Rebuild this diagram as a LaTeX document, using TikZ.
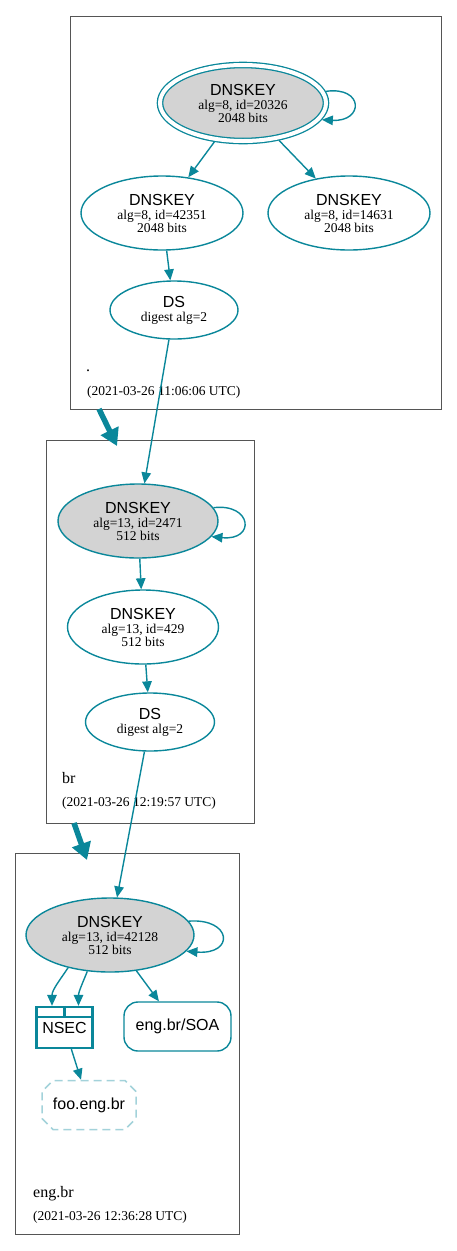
\documentclass[tikz,border=0pt]{standalone}
\usepackage{fontspec}
\setmainfont{Liberation Serif}
\setsansfont{Liberation Sans}
\usetikzlibrary{arrows.meta,shapes.geometric,shapes.misc,calc}
\definecolor{tealc}{HTML}{0A879A}
\definecolor{ltteal}{HTML}{A3D2DA}
\definecolor{zonegray}{HTML}{555555}
\definecolor{keyfill}{HTML}{D3D3D3}
\newcommand{\dnsk}{\textsf{\fontsize{16}{16}\selectfont DNSKEY}\\[1pt]}
\newcommand{\dsname}{\textsf{\fontsize{16}{16}\selectfont DS}\\[1pt]}
\begin{document}
\begin{tikzpicture}[x=1pt,y=-1pt,
  zone/.style={draw=zonegray, line width=0.8pt, rectangle, inner sep=0pt, anchor=north west},
  key/.style={ellipse, draw=tealc, line width=1.4pt, inner sep=0pt, align=center,
    font=\fontsize{13.5}{13}\selectfont},
  ksk/.style={key, fill=keyfill},
  edge/.style={draw=tealc, line width=1.4pt, -{Triangle[length=11pt,width=9.5pt]}},
  zedge/.style={draw=tealc, line width=5.5pt, -{Triangle[length=17pt,width=19pt]}},
  zlabel/.style={inner sep=0pt, anchor=base west, font=\fontsize{16}{16}\selectfont},
  zdate/.style={inner sep=0pt, anchor=base west, font=\fontsize{13.5}{14}\selectfont},
  rec/.style={draw=tealc, line width=1.4pt, rectangle, rounded corners=14pt, inner sep=0pt,
    font=\sffamily\fontsize{16}{16}\selectfont},
]
\useasboundingbox (0,0) rectangle (457,1251);

% zones
\node[zone, minimum width=371, minimum height=393] (zone1) at (70,16) {};
\node[zone, minimum width=208, minimum height=383] (zone2) at (46,440) {};
\node[zone, minimum width=224, minimum height=381] (zone3) at (15,853) {};

% zone labels
\node[zlabel] (l1) at (86,371) {.};
\node[zdate] (d1) at (87,395) {(2021-03-26 11:06:06 UTC)};
\node[zlabel] (l2) at (62,783) {br};
\node[zdate] (d2) at (62,806) {(2021-03-26 12:19:57 UTC)};
\node[zlabel] (l3) at (33,1197) {eng.br};
\node[zdate] (d3) at (33,1220) {(2021-03-26 12:36:28 UTC)};

% zone .
\node[ksk, minimum width=166, minimum height=76, double=white, double distance=4pt,
  line width=1.3pt, outer sep=3.3pt] (k1) at (243,103) {\dnsk alg=8, id=20326\\2048 bits};
\node[key, minimum width=162, minimum height=74] (k2) at (162,213) {\dnsk alg=8, id=42351\\2048 bits};
\node[key, minimum width=162, minimum height=74] (k3) at (349,213) {\dnsk alg=8, id=14631\\2048 bits};
\node[key, minimum width=128, minimum height=58] (ds1) at (174,310) {\dsname digest alg=2};

% zone br
\node[ksk, minimum width=160, minimum height=74] (k4) at (138,521) {\dnsk alg=13, id=2471\\512 bits};
\node[key, minimum width=151, minimum height=74] (k5) at (143,627) {\dnsk alg=13, id=429\\512 bits};
\node[key, minimum width=129, minimum height=58] (ds2) at (150,722) {\dsname digest alg=2};

% zone eng.br
\node[ksk, minimum width=168, minimum height=74] (k6) at (110,935) {\dnsk alg=13, id=42128\\512 bits};
\node[draw=tealc, line width=2.3pt, rectangle, inner sep=0pt, minimum width=56, minimum height=41,
  font=\sffamily\fontsize{16}{16}\selectfont] (nsec) at (64.5,1027.5) {\raisebox{-6pt}{NSEC}};
\draw[draw=tealc, line width=2.3pt] ($(nsec.north west)+(0,11)$) -- ($(nsec.north east)+(0,11)$);
\draw[draw=tealc, line width=2.3pt] (nsec.north) -- ($(nsec.north)+(0,11)$);
\node[rec, minimum width=107, minimum height=49] (soa) at (177.5,1026.5) {eng.br/SOA};
\node[chamfered rectangle, chamfered rectangle xsep=5.5pt, chamfered rectangle ysep=5.5pt,
  draw=ltteal, line width=1.5pt, dash pattern=on 8pt off 5pt, inner sep=0pt,
  minimum width=94, minimum height=49, font=\sffamily\fontsize{16}{16}\selectfont] (foo) at (89,1105) {foo.eng.br};

\coordinate (p1) at ($(nsec.north)+(-12.5,0)$);
\coordinate (p2) at ($(nsec.north)+(14,0)$);

% self loops
\draw[edge] (k1.8) .. controls (364,86) and (364,122) .. (k1.-12);
\draw[edge] (k4.10) .. controls (252,503) and (256,541) .. (k4.-12);
\draw[edge] (k6.10) .. controls (232,918) and (235,955) .. (k6.-12);

% edges
\draw[edge] (k1) -- (k2);
\draw[edge] (k1) -- (k3);
\draw[edge] (k2) -- (ds1);
\draw[edge] (ds1) -- (k4);
\draw[edge] (k4) -- (k5);
\draw[edge] (k5) -- (ds2);
\draw[edge] (ds2) -- (k6);
\draw[edge] (k6.218) .. controls ($(k6.218)+(-8,12)$) and ($(p1)+(0,-16)$) .. (p1);
\draw[edge] (k6.238) .. controls ($(k6.238)+(-4,10)$) and ($(p2)+(0,-14)$) .. (p2);
\draw[edge] (k6) -- (soa);
\draw[edge] (nsec) -- (foo);

% zone to zone
\coordinate (z1o) at (99,409);
\coordinate (z2i) at (117,446);
\coordinate (z2o) at (74,823);
\coordinate (z3i) at (87,860);
\draw[zedge] (z1o) -- (z2i);
\draw[zedge] (z2o) -- (z3i);
\end{tikzpicture}
\end{document}
